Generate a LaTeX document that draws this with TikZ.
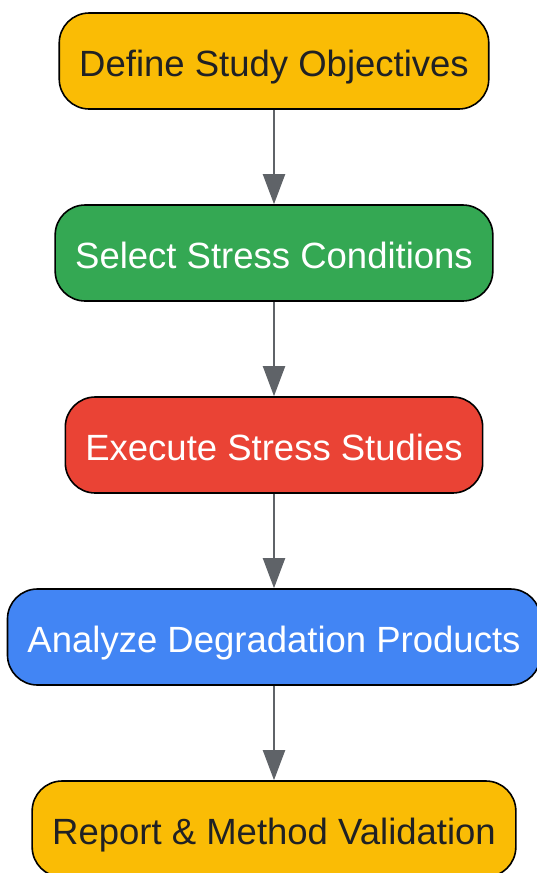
\documentclass[tikz,border=0pt]{standalone}
\usepackage{fontspec}
\setmainfont{Liberation Sans}
\usetikzlibrary{positioning,arrows.meta}
\definecolor{gyellow}{HTML}{FABC05}
\definecolor{ggreen}{HTML}{34A853}
\definecolor{gred}{HTML}{EA4335}
\definecolor{gblue}{HTML}{4285F4}
\definecolor{gtext}{HTML}{202124}
\definecolor{garrow}{HTML}{5F6368}
\tikzset{
  stepbox/.style={draw=black,line width=1.6pt,rounded corners=30pt,
    minimum height=96pt,inner xsep=20pt,text height=30pt,text depth=0pt,
    font=\fontsize{36.5}{40}\selectfont},
  flow/.style={draw=garrow,line width=2pt,-{Triangle[length=30pt,width=22pt]}}
}
\begin{document}
\begin{tikzpicture}[node distance=94.4pt]
\useasboundingbox (0pt,0pt) rectangle (537pt,-873pt);
\node[stepbox,fill=gyellow,text=gtext] (objectives) at (274pt,-61pt) {Define Study Objectives};
\node[stepbox,fill=ggreen,text=white,below=of objectives] (conditions) {Select Stress Conditions};
\node[stepbox,fill=gred,text=white,below=of conditions] (studies) {Execute Stress Studies};
\node[stepbox,fill=gblue,text=white,below=of studies] (products) {Analyze Degradation Products};
\node[stepbox,fill=gyellow,text=gtext,below=of products] (report) {Report \& Method Validation};
\draw[flow] (objectives) -- (conditions);
\draw[flow] (conditions) -- (studies);
\draw[flow] (studies) -- (products);
\draw[flow] (products) -- (report);
\end{tikzpicture}
\end{document}
